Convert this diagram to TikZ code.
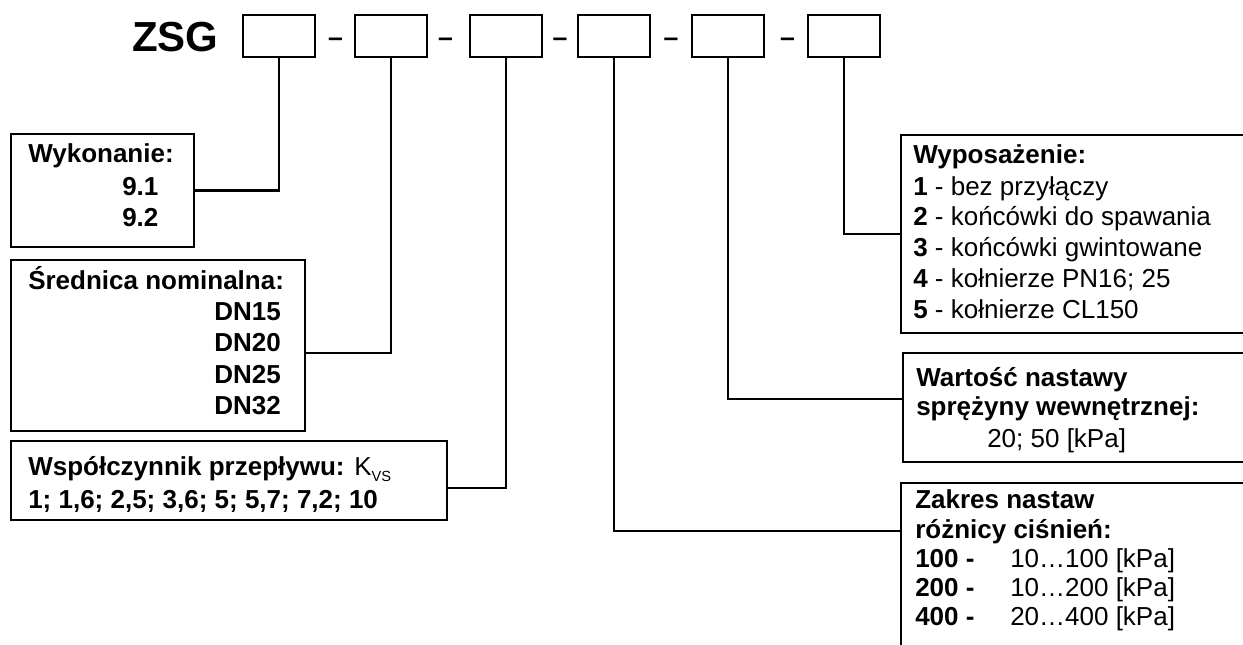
\documentclass[tikz,border=0pt]{standalone}
\usepackage{fontspec}
\setmainfont{Liberation Sans}
\usetikzlibrary{calc}
\tikzset{
  topbox/.style={draw, line width=1.8pt, minimum width={72*0.75pt}, minimum height={42.5*0.75pt}, inner sep=0pt},
  dbox/.style={draw, line width=1.8pt, anchor=north west, inner sep=0pt},
  conn/.style={line width=1.8pt},
  txt/.style={anchor=base west, inner sep=0pt, font=\fontsize{19.5}{23}\selectfont},
  txtr/.style={anchor=base east, inner sep=0pt, font=\fontsize{19.5}{23}\selectfont},
  hy/.style={anchor=base, inner sep=0pt, font=\fontsize{20}{23}\selectfont\bfseries},
  title/.style={anchor=base west, inner sep=0pt, font=\fontsize{31.5}{36}\selectfont\bfseries}
}
\begin{document}
\begin{tikzpicture}[x=0.75pt, y=-0.75pt]
\useasboundingbox (0,0) rectangle (1243,645);
\clip (0,0) rectangle (1243,645);
\fill[white] (0,0) rectangle (1243,645);

% title and code boxes
\node[title] (zsg) at (132,52) {ZSG};
\node[topbox] (b1) at (279,36) {};
\node[topbox] (b2) at (391,36) {};
\node[topbox] (b3) at (506,36) {};
\node[topbox] (b4) at (614,36) {};
\node[topbox] (b5) at (728,36) {};
\node[topbox] (b6) at (844,36) {};
\node[hy] (h1) at (335.5,46.5) {–};
\node[hy] (h2) at (445.5,46.5) {–};
\node[hy] (h3) at (560,46.5) {–};
\node[hy] (h4) at (671,46.5) {–};
\node[hy] (h5) at (787.5,46.5) {–};

% description boxes
\node[dbox, minimum width={183*0.75pt}, minimum height={113*0.75pt}] (d1) at (10,133) {};
\node[dbox, minimum width={294*0.75pt}, minimum height={171*0.75pt}] (d2) at (10,259) {};
\node[dbox, minimum width={436*0.75pt}, minimum height={79*0.75pt}] (d3) at (10,440) {};
\node[dbox, minimum width={370*0.75pt}, minimum height={198*0.75pt}] (d4) at (900,134) {};
\node[dbox, minimum width={370*0.75pt}, minimum height={109*0.75pt}] (d5) at (902,352) {};
\node[dbox, minimum width={370*0.75pt}, minimum height={180*0.75pt}] (d6) at (900,482) {};

% connectors
\draw[conn] (b1.south) |- (d1.east);
\draw[conn] (b2.south) |- ($(d2.east)+(0,7.5)$);
\draw[conn] (b3.south) |- ($(d3.east)+(0,7)$);
\draw[conn] (b4.south) |- ($(d6.north west)+(0,49)$);
\draw[conn] (b5.south) |- ($(d5.west)+(0,-8.5)$);
\draw[conn] (b6.south) |- (d4.west);

% Wykonanie
\node[txt] (t11) at (28,163) {\bfseries Wykonanie:};
\node[txt] (t12) at (122,196) {\bfseries 9.1};
\node[txt] (t13) at (122,227) {\bfseries 9.2};

% Srednica
\node[txt] (t21) at (28,290) {\bfseries Średnica nominalna:};
\node[txtr] (t22) at (281,321) {\bfseries DN15};
\node[txtr] (t23) at (281,352) {\bfseries DN20};
\node[txtr] (t24) at (281,383) {\bfseries DN25};
\node[txtr] (t25) at (281,414) {\bfseries DN32};

% Wspolczynnik
\node[txt] (t31) at (28,475) {\textbf{Współczynnik przepływu:} K\raisebox{-0.45ex}{\fontsize{11}{12}\selectfont VS}};
\node[txt] (t32) at (28,508) {\bfseries 1; 1,6; 2,5; 3,6; 5; 5,7; 7,2; 10};

% Wyposazenie
\node[txt] (t41) at (913,164) {\bfseries Wyposażenie:};
\node[txt] (t42) at (913,195.5) {\textbf{1} - bez przyłączy};
\node[txt] (t43) at (913,226) {\textbf{2} - końcówki do spawania};
\node[txt] (t44) at (913,257) {\textbf{3} - końcówki gwintowane};
\node[txt] (t45) at (913,288) {\textbf{4} - kołnierze PN16; 25};
\node[txt] (t46) at (913,319) {\textbf{5} - kołnierze CL150};

% Wartosc
\node[txt] (t51) at (916,387) {\bfseries Wartość nastawy};
\node[txt] (t52) at (916,416) {\bfseries sprężyny wewnętrznej:};
\node[txt] (t53) at (987,447) {20; 50 [kPa]};

% Zakres
\node[txt] (t61) at (915,508) {\bfseries Zakres nastaw};
\node[txt] (t62) at (915,538) {\bfseries różnicy ciśnień:};
\node[txt] (t63) at (915,567) {\bfseries 100 -};
\node[txt] (t64) at (915,596) {\bfseries 200 -};
\node[txt] (t65) at (915,625) {\bfseries 400 -};
\node[txt] (t66) at (1010,567) {10…100 [kPa]};
\node[txt] (t67) at (1010,596) {10…200 [kPa]};
\node[txt] (t68) at (1010,625) {20…400 [kPa]};
\end{tikzpicture}
\end{document}
